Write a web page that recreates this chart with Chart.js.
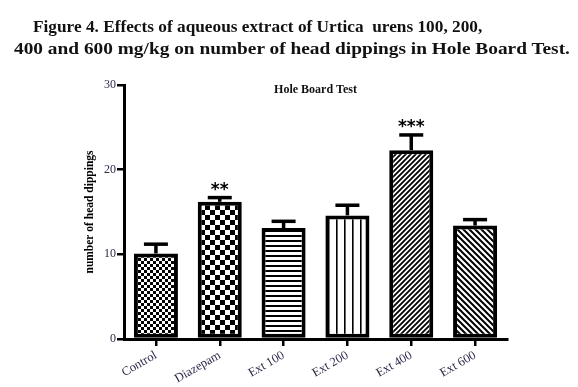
<!DOCTYPE html>
<html><head><meta charset="utf-8">
<script src="https://cdn.jsdelivr.net/npm/chart.js@4"></script>
<style>
html,body{margin:0;padding:0;background:#fff;}
#wrap{position:relative;width:578px;height:387px;overflow:hidden;}
#c{position:absolute;left:0;top:0;}
.cap{position:absolute;font-family:"Liberation Serif",serif;font-weight:bold;font-size:17.5px;white-space:nowrap;color:#111;transform-origin:0 0;line-height:20px;}
</style></head><body>
<div id="wrap">
<canvas id="c" width="578" height="387"></canvas>
<div class="cap" id="l1" style="left:33px;top:16px;">Figure 4. Effects of aqueous extract of Urtica&nbsp; urens 100, 200,</div>
<div class="cap" id="l2" style="left:14px;top:38px;">400 and 600 mg/kg on number of head dippings in Hole Board Test.</div>
</div>
<script>
const categories = ['Control', 'Diazepam', 'Ext 100', 'Ext 200', 'Ext 400', 'Ext 600'];
const meanDippings = [10.1, 16.2, 13.1, 14.6, 22.3, 13.4];
const semDippings = [1.1, 0.5, 0.8, 1.2, 1.8, 0.7];
const significance = ['', '**', '', '', '***', ''];
const yTickValues = [0, 10, 20, 30];

// fit caption lines to reference widths
[['l1', 449], ['l2', 556]].forEach(([id, w]) => {
  const el = document.getElementById(id);
  el.style.transform = 'scaleX(' + (w / el.offsetWidth) + ')';
});

function makePattern(size, draw) {
  const cv = document.createElement('canvas');
  cv.width = size; cv.height = size;
  const g = cv.getContext('2d');
  g.fillStyle = '#fff'; g.fillRect(0, 0, size, size);
  g.fillStyle = '#000'; g.strokeStyle = '#000';
  draw(g, size);
  return document.getElementById('c').getContext('2d').createPattern(cv, 'repeat');
}
const checker = (cell) => makePattern(cell * 2, (g, s) => {
  g.fillRect(0, 0, cell, cell); g.fillRect(cell, cell, cell, cell);
});
const patterns = [
  checker(3),
  checker(5),
  makePattern(5, (g, s) => { g.fillRect(0, 0, s, 2); }),
  makePattern(8, (g, s) => { g.fillRect(0, 0, 1.6, s); }),
  makePattern(5, (g, s) => {
    g.lineWidth = 1.8; g.beginPath();
    g.moveTo(-1, s + 1); g.lineTo(s + 1, -1);
    g.moveTo(-1, 1); g.lineTo(1, -1);
    g.moveTo(s - 1, s + 1); g.lineTo(s + 1, s - 1);
    g.stroke();
  }),
  makePattern(6, (g, s) => {
    g.lineWidth = 2; g.beginPath();
    g.moveTo(-1, -1); g.lineTo(s + 1, s + 1);
    g.moveTo(s - 1, -1); g.lineTo(s + 1, 1);
    g.moveTo(-1, s - 1); g.lineTo(1, s + 1);
    g.stroke();
  })
];

const extrasPlugin = {
  id: 'extras',
  afterDatasetsDraw(chart) {
    const { ctx, chartArea, scales: { y } } = chart;
    const meta = chart.getDatasetMeta(0);
    ctx.save();
    ctx.strokeStyle = '#000';
    ctx.fillStyle = '#000';
    meta.data.forEach((bar, i) => {
      const top = y.getPixelForValue(meanDippings[i]);
      const capY = y.getPixelForValue(meanDippings[i] + semDippings[i]);
      ctx.lineWidth = 3.5;
      ctx.beginPath();
      ctx.moveTo(bar.x, top); ctx.lineTo(bar.x, capY);
      ctx.stroke();
      ctx.beginPath();
      ctx.moveTo(bar.x - 12, capY); ctx.lineTo(bar.x + 12, capY);
      ctx.stroke();
      if (significance[i]) {
        ctx.font = 'bold 17px "DejaVu Sans"';
        ctx.textAlign = 'center';
        ctx.textBaseline = 'alphabetic';
        ctx.fillText(significance[i], bar.x, capY - 3);
      }
    });
    ctx.font = 'bold 12px "Liberation Serif"';
    ctx.textAlign = 'center';
    ctx.textBaseline = 'alphabetic';
    ctx.fillStyle = '#111';
    ctx.fillText('Hole Board Test', (chartArea.left + chartArea.right) / 2, chartArea.top + 8);
    ctx.restore();
  }
};

new Chart(document.getElementById('c'), {
  type: 'bar',
  data: {
    labels: categories,
    datasets: [{
      data: meanDippings,
      backgroundColor: patterns,
      borderColor: '#000',
      borderWidth: 4,
      borderSkipped: false,
      barPercentage: 0.69,
      categoryPercentage: 1
    }]
  },
  options: {
    responsive: false,
    animation: false,
    layout: { padding: { left: 75, top: 85, right: 71, bottom: 0 } },
    plugins: { legend: { display: false }, tooltip: { enabled: false }, title: { display: false } },
    scales: {
      x: {
        grid: { display: true, drawOnChartArea: false, offset: false, tickLength: 7, lineWidth: 2.5, color: '#000' },
        border: { display: true, color: '#000', width: 3 },
        ticks: { minRotation: 30, maxRotation: 30, padding: 2, color: '#2b2b4a', font: { family: 'Liberation Serif', size: 12.5 } },
        afterFit: s => { s.height = 48; }
      },
      y: {
        min: 0, max: 30,
        afterBuildTicks: s => { s.ticks = yTickValues.map(v => ({ value: v })); },
        grid: { display: true, drawOnChartArea: false, tickLength: 7, lineWidth: 2.5, color: '#000' },
        border: { display: true, color: '#000', width: 3 },
        ticks: { padding: 1, color: '#2b2b4a', font: { family: 'Liberation Serif', size: 12 } },
        title: { display: true, text: 'number of head dippings', color: '#000', padding: { top: 8, bottom: 0 }, font: { family: 'Liberation Serif', size: 11.5, weight: 'bold' } },
        afterFit: s => { s.width = 49; }
      }
    }
  },
  plugins: [extrasPlugin]
});
</script>
</body></html>
